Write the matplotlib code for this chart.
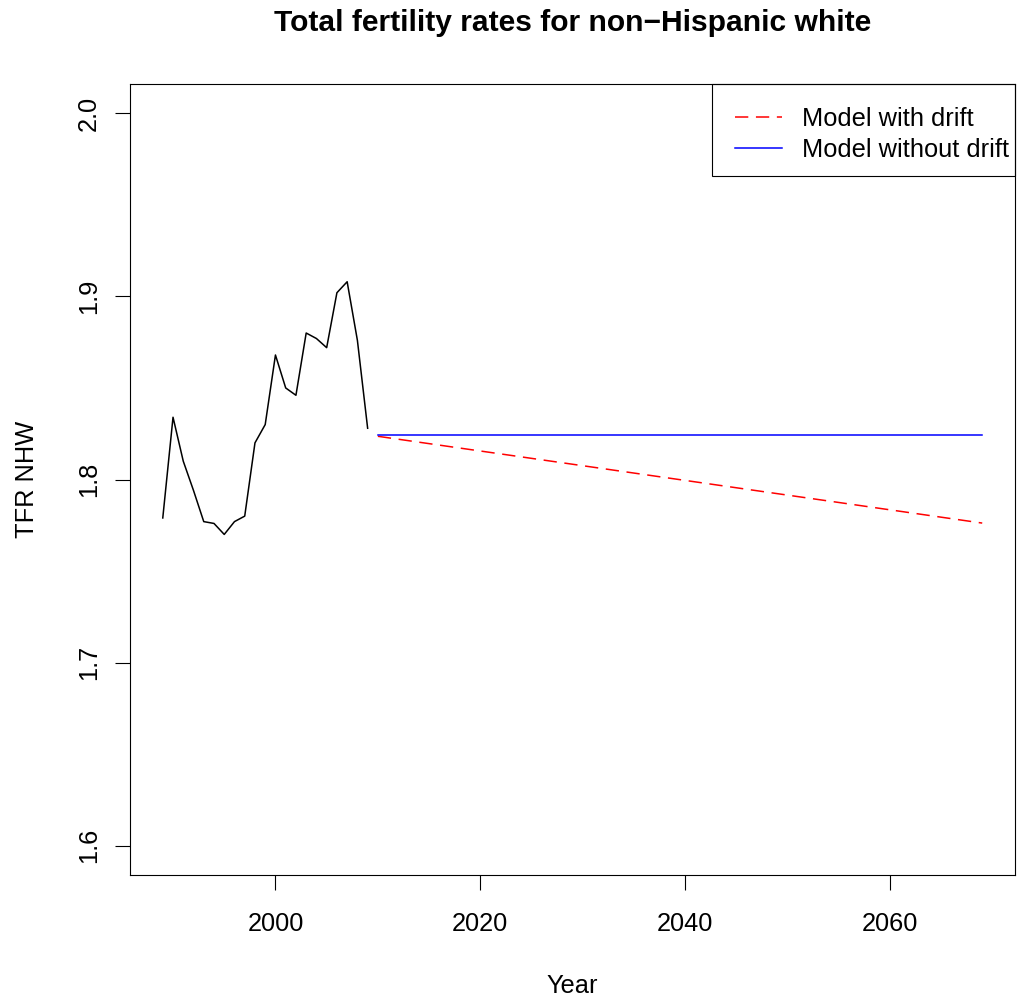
import matplotlib
matplotlib.use("Agg")
import matplotlib.pyplot as plt
from matplotlib.patches import Rectangle

plt.rcParams['font.family'] = ['Liberation Sans', 'DejaVu Sans']

# observed TFR, non-Hispanic white
years = [1989, 1990, 1991, 1992, 1993, 1994, 1995, 1996, 1997, 1998, 1999,
         2000, 2001, 2002, 2003, 2004, 2005, 2006, 2007, 2008, 2009]
tfr = [1.779, 1.834, 1.810, 1.794, 1.777, 1.776, 1.770, 1.777, 1.780, 1.820, 1.830,
       1.868, 1.850, 1.846, 1.880, 1.877, 1.872, 1.902, 1.908, 1.876, 1.828]

# forecasts (straight lines, endpoints)
fc_years = [2010, 2069]
fc_drift = [1.8236, 1.7762]
fc_nodrift = [1.8243, 1.8243]

fig = plt.figure(figsize=(10.2, 9.99), dpi=100)
ax = fig.add_axes([130/1020, 1 - 875/999, (1015-130)/1020, (875-84)/999])

ax.plot(years, tfr, color='black', lw=1.1)
ax.plot(fc_years, fc_drift, color='red', lw=1.1, dashes=(8.7, 5.0), label='Model with drift')
ax.plot(fc_years, fc_nodrift, color='blue', lw=1.1, label='Model without drift')

ax.set_xlim(1985.8, 2072.2)
ax.set_ylim(1.584, 2.016)
ax.set_xticks([2000, 2020, 2040, 2060])
ax.set_yticks([1.6, 1.7, 1.8, 1.9, 2.0])
ax.set_yticklabels(['1.6', '1.7', '1.8', '1.9', '2.0'], rotation=90, va='center')
ax.tick_params(direction='out', length=10.8, width=0.8, labelsize=18.3)
ax.tick_params(axis='x', pad=16)
ax.tick_params(axis='y', pad=10)
for s in ax.spines.values():
    s.set_linewidth(0.8)

ax.set_xlabel('Year', fontsize=18.3, labelpad=27.4)
ax.set_ylabel('TFR NHW', fontsize=18.3, labelpad=27.2)
ax.set_title('Total fertility rates for non\u2212Hispanic white', fontsize=21.6,
             fontweight='bold', pad=38)

# legend box like R's topright legend
ax.add_patch(Rectangle((582/885, 1 - 92/791), 303/885, 92/791, transform=ax.transAxes,
                       fill=False, edgecolor='black', lw=0.8, clip_on=False))
ax.legend(loc='upper left', bbox_to_anchor=(605/885, 1 - 22.5/791), borderaxespad=0,
          borderpad=0, fontsize=18.3, frameon=False,
          handlelength=1.85, handletextpad=0.8, labelspacing=0.28)

fig.savefig('out.png', dpi=100)
